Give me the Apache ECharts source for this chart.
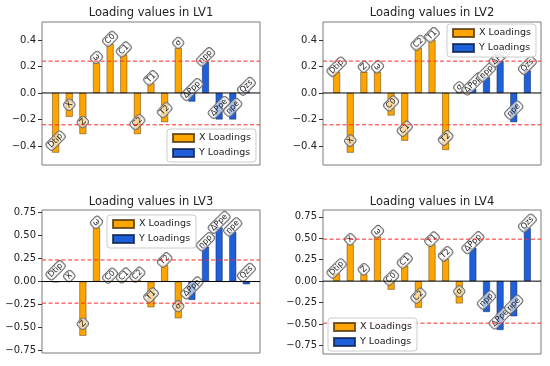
<!DOCTYPE html>
<html><head><meta charset="utf-8">
<script src="https://cdn.jsdelivr.net/npm/echarts@6/dist/echarts.min.js"></script>
<style>html,body{margin:0;padding:0;background:#fff}#c{width:550px;height:366px}</style>
</head><body><div id="c"></div>
<script>
// ---- data ----
const categories = ['Dtip','X','Z','ω','C0','C1','C2','T1','T2','σ','ΔPpp','npp','ΔPpe','npe','Qzs'];
const xVarCount = 10;
const lv1X = [-0.45, -0.18, -0.31, 0.23, 0.37, 0.29, -0.31, 0.075, -0.22, 0.34];
const lv1Y = [-0.065, 0.235, -0.20, -0.20, 0.012];
const lv2X = [0.16, -0.45, 0.16, 0.16, -0.17, -0.36, 0.34, 0.40, -0.43, 0.005];
const lv2Y = [0.03, 0.12, 0.24, -0.22, 0.17];
const lv3X = [-0.008, 0.004, -0.59, 0.59, 0.01, 0.012, 0.02, -0.28, 0.18, -0.40];
const lv3Y = [-0.20, 0.38, 0.59, 0.54, -0.03];
const lv4X = [0.09, 0.43, 0.08, 0.52, -0.10, 0.18, -0.31, 0.43, 0.26, -0.26];
const lv4Y = [0.39, -0.36, -0.57, -0.41, 0.62];
const thresholds = [0.24, 0.24, 0.235, 0.49];
const ticksSmall = [-0.4, -0.2, 0, 0.2, 0.4];
const ticksLarge = [-0.75, -0.5, -0.25, 0, 0.25, 0.5, 0.75];
const titles = ['Loading values in LV1', 'Loading values in LV2', 'Loading values in LV3', 'Loading values in LV4'];
const legendNames = ['X Loadings', 'Y Loadings'];

// ---- layout / style ----
const FONT = 'DejaVu Sans';
const ORANGE = '#ffa500';
const BLUE = '#1f5fd9';
const RED = 'rgb(255,40,40)';
const X_MIN = -1, X_MAX = categories.length; // axis extent: one slot of padding each side
const panels = [
  {X: lv1X, Y: lv1Y, grid: {left: 42, top: 22, width: 218, height: 143}, yMin: -0.543, yMax: 0.535, ticks: ticksSmall, dec: 1, titleTop: 7, legend: {left: 167, top: 129}},
  {X: lv2X, Y: lv2Y, grid: {left: 323, top: 22, width: 218, height: 143}, yMin: -0.543, yMax: 0.535, ticks: ticksSmall, dec: 1, titleTop: 7, legend: {left: 447, top: 24}},
  {X: lv3X, Y: lv3Y, grid: {left: 42, top: 210, width: 218, height: 143}, yMin: -0.778, yMax: 0.779, ticks: ticksLarge, dec: 2, titleTop: 196, legend: {left: 107, top: 215}},
  {X: lv4X, Y: lv4Y, grid: {left: 323, top: 210, width: 218, height: 144}, yMin: -0.85, yMax: 0.83, ticks: ticksLarge, dec: 2, titleTop: 196, legend: {left: 328, top: 318}}
];

function labelFor(v) {
  return v >= 0 ? {position: 'top', distance: 5} : {position: 'insideBottom', distance: 12};
}
const labelStyle = {
  show: true, rotate: 45, align: 'center', verticalAlign: 'middle',
  fontFamily: FONT, fontSize: 8, color: '#1a1a1a',
  backgroundColor: 'rgba(255,255,255,0.6)', borderColor: '#666', borderWidth: 0.8,
  borderRadius: 3, padding: [1, 2, 0, 2],
  formatter: p => categories[p.value[0]]
};

function hLine(k, y, color, type, name) {
  return {
    type: 'line', name: name + '_' + k, xAxisIndex: k, yAxisIndex: k, silent: true,
    symbol: 'none', showSymbol: false, animation: false, z: 3,
    color: color,
    itemStyle: {color: color},
    lineStyle: {color: color, type: type, width: 1, opacity: 1},
    emphasis: {disabled: true}, tooltip: {show: false},
    data: [[X_MIN, y], [X_MAX, y]]
  };
}

const option = {
  animation: false,
  backgroundColor: '#fff',
  title: panels.map((p, k) => ({
    text: titles[k], left: p.grid.left + p.grid.width / 2, textAlign: 'center', top: p.titleTop, padding: 0,
    textStyle: {fontFamily: FONT, fontSize: 11.5, fontWeight: 'normal', color: '#222'}
  })),
  grid: panels.map(p => Object.assign({show: true, borderColor: '#7a7a7a', borderWidth: 1, containLabel: false}, p.grid)),
  legend: panels.map(p => ({
    data: legendNames, orient: 'vertical', left: p.legend.left, top: p.legend.top,
    itemWidth: 21, itemHeight: 8, itemGap: 3, padding: [3, 5], icon: 'rect',
    borderColor: '#cccccc', borderWidth: 1, borderRadius: 3, backgroundColor: 'rgba(255,255,255,0.85)',
    selectedMode: false, z: 10,
    textStyle: {fontFamily: FONT, fontSize: 9.5, color: '#222', lineHeight: 12}
  })),
  xAxis: panels.map((p, k) => ({type: 'value', gridIndex: k, min: X_MIN, max: X_MAX, show: false,
    axisLine: {onZero: false}})),
  yAxis: panels.map((p, k) => ({
    type: 'value', gridIndex: k, min: p.yMin, max: p.yMax, position: 'left',
    axisLine: {show: false, onZero: false}, splitLine: {show: false},
    axisTick: {show: true, length: 4, lineStyle: {color: '#333'}, customValues: p.ticks},
    axisLabel: {customValues: p.ticks, fontFamily: FONT, fontSize: 10, color: '#222', margin: 6,
      formatter: v => v.toFixed(p.dec).replace('-', '\u2212')}
  })),
  series: []
};

panels.forEach((p, k) => {
  option.series.push({
    type: 'bar', name: legendNames[0], xAxisIndex: k, yAxisIndex: k, barWidth: 7, barGap: '-100%',
    itemStyle: {color: ORANGE, borderColor: 'rgba(70,45,0,0.75)', borderWidth: 0.6},
    label: labelStyle,
    data: p.X.map((v, i) => ({value: [i, v], label: labelFor(v)})),
    z: 2
  });
  option.series.push({
    type: 'bar', name: legendNames[1], xAxisIndex: k, yAxisIndex: k, barWidth: 7, barGap: '-100%',
    itemStyle: {color: BLUE, borderColor: 'rgba(10,25,70,0.75)', borderWidth: 0.6},
    label: labelStyle,
    data: p.Y.map((v, j) => ({value: [xVarCount + j, v], label: labelFor(v)})),
    z: 2
  });
  option.series.push(hLine(k, thresholds[k], RED, [4, 2.5], 'thrHi'));
  option.series.push(hLine(k, -thresholds[k], RED, [4, 2.5], 'thrLo'));
  option.series.push(hLine(k, 0, '#000000', 'solid', 'zero'));
});

const chart = echarts.init(document.getElementById('c'), null, {renderer: 'canvas'});
chart.setOption(option);
</script></body></html>
